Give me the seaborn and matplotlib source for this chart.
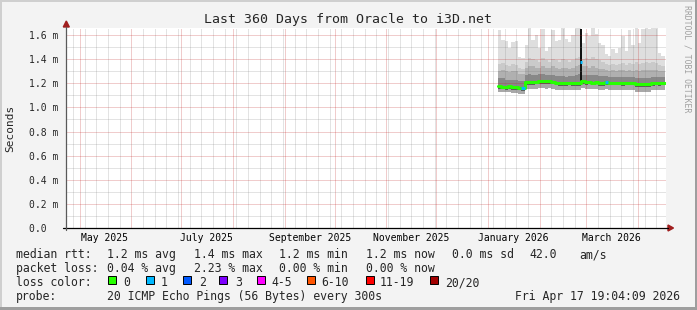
import numpy as np
import pandas as pd
import matplotlib
matplotlib.use("Agg")
import matplotlib.pyplot as plt
import matplotlib.dates as mdates
import matplotlib.transforms as mtransforms
from matplotlib.ticker import MultipleLocator, NullFormatter, FixedLocator
from matplotlib.patches import Rectangle, Polygon
from matplotlib.lines import Line2D
import seaborn as sns

# ---------------- data ----------------
title = "Last 360 Days from Oracle to i3D.net"
graph_start = "2025-04-22 19:04:09"
graph_end = "2026-04-17 19:04:09"
first_bin = "2026-01-07"
bin_days = 2

month_labels = ["May 2025", "July 2025", "September 2025", "November 2025",
                "January 2026", "March 2026"]
label_months = ["2025-05-01", "2025-07-01", "2025-09-01", "2025-11-01",
                "2026-01-01", "2026-03-01"]

y_ticks_ms = [0.0, 0.2, 0.4, 0.6, 0.8, 1.0, 1.2, 1.4, 1.6]
y_tick_labels = ["0.0  ", "0.2 m", "0.4 m", "0.6 m", "0.8 m", "1.0 m",
                 "1.2 m", "1.4 m", "1.6 m"]

median_ms = [1.180, 1.172, 1.170, 1.175, 1.168, 1.165, 1.163, 1.160,
             1.208, 1.210, 1.208, 1.212, 1.218, 1.220, 1.216, 1.219,
             1.214, 1.205, 1.200, 1.203, 1.198, 1.204, 1.200, 1.202,
             1.200,
             1.218, 1.208, 1.212, 1.206, 1.213, 1.200, 1.198, 1.210,
             1.204, 1.204, 1.205, 1.204, 1.203, 1.204, 1.205, 1.204,
             1.195, 1.192, 1.193, 1.192, 1.193, 1.203, 1.204, 1.203, 1.205]

loss_count = [0, 0, 0, 0, 0, 0, 0, 1,
              0, 0, 0, 0, 0, 0, 0, 0, 0, 0, 0, 0, 0, 0, 0, 0,
              0,
              0, 0, 0, 0, 0, 0, 0, 1, 0, 0, 0, 0, 0, 0, 0, 0,
              0, 0, 0, 0, 0, 0, 0, 0, 0]

smoke_top_ms = [1.64, 1.56, 1.55, 1.49, 1.54, 1.55, 1.42, 1.41,
                1.52, 1.66, 1.56, 1.60, 1.49, 1.65, 1.47, 1.50,
                1.64, 1.55, 1.56, 1.66, 1.57, 1.54, 1.60, 1.66,
                1.66,
                1.53, 1.62, 1.59, 1.66, 1.61, 1.53, 1.52, 1.44,
                1.43, 1.48, 1.45, 1.49, 1.59, 1.47, 1.64, 1.52,
                1.66, 1.53, 1.65, 1.66, 1.65, 1.66, 1.66, 1.45, 1.43]

smoke_p90_ms = [1.36, 1.37, 1.35, 1.34, 1.36, 1.35, 1.33, 1.32,
                1.38, 1.41, 1.40, 1.39, 1.38, 1.41, 1.39, 1.38,
                1.40, 1.39, 1.38, 1.40, 1.39, 1.38, 1.39, 1.41,
                1.42,
                1.40, 1.41, 1.40, 1.42, 1.40, 1.39, 1.38, 1.36,
                1.35, 1.36, 1.35, 1.36, 1.37, 1.35, 1.37, 1.36,
                1.38, 1.36, 1.37, 1.38, 1.37, 1.38, 1.37, 1.35, 1.34]

smoke_p75_ms = [1.30, 1.31, 1.30, 1.29, 1.30, 1.30, 1.28, 1.28,
                1.33, 1.34, 1.34, 1.33, 1.33, 1.34, 1.33, 1.33,
                1.34, 1.33, 1.32, 1.33, 1.33, 1.32, 1.33, 1.34,
                1.35,
                1.34, 1.34, 1.33, 1.34, 1.33, 1.32, 1.32, 1.31,
                1.30, 1.31, 1.30, 1.31, 1.31, 1.30, 1.31, 1.30,
                1.31, 1.30, 1.31, 1.31, 1.31, 1.31, 1.31, 1.30, 1.30]

smoke_p60_ms = [1.24, 1.24, 1.23, 1.23, 1.23, 1.23, 1.22, 1.22,
                1.27, 1.28, 1.27, 1.27, 1.28, 1.28, 1.27, 1.27,
                1.27, 1.26, 1.26, 1.26, 1.25, 1.26, 1.26, 1.27,
                1.28,
                1.27, 1.27, 1.27, 1.27, 1.27, 1.26, 1.26, 1.26,
                1.25, 1.25, 1.25, 1.25, 1.25, 1.25, 1.25, 1.25,
                1.24, 1.24, 1.24, 1.24, 1.24, 1.25, 1.25, 1.25, 1.25]

smoke_p20_ms = [1.155, 1.150, 1.148, 1.152, 1.146, 1.143, 1.140, 1.138,
                1.185, 1.188, 1.186, 1.190, 1.195, 1.196, 1.192, 1.195,
                1.190, 1.182, 1.178, 1.180, 1.176, 1.182, 1.178, 1.180,
                1.180,
                1.195, 1.186, 1.190, 1.184, 1.190, 1.178, 1.176, 1.186,
                1.182, 1.182, 1.183, 1.182, 1.181, 1.182, 1.183, 1.182,
                1.172, 1.170, 1.171, 1.170, 1.171, 1.180, 1.182, 1.181, 1.183]

smoke_bottom_ms = [1.130, 1.125, 1.125, 1.130, 1.120, 1.120, 1.115, 1.115,
                   1.150, 1.155, 1.150, 1.155, 1.160, 1.160, 1.155, 1.160,
                   1.155, 1.145, 1.140, 1.145, 1.140, 1.145, 1.140, 1.145,
                   1.145,
                   1.160, 1.150, 1.155, 1.150, 1.155, 1.140, 1.140, 1.150,
                   1.145, 1.145, 1.145, 1.145, 1.145, 1.145, 1.145, 1.145,
                   1.130, 1.130, 1.130, 1.130, 1.130, 1.140, 1.145, 1.140, 1.145]

# single short sample with a latency spike
spike_start = "2026-02-25 00:00"
spike_end = "2026-02-26 06:00"
spike_low_ms = 1.19
spike_high_ms = 1.65
spike_median_ms = 1.379
spike_loss = 1

loss_levels = ["0", "1", "2", "3", "4-5", "6-10", "11-19", "20/20"]
loss_colors = ["#26ff00", "#00b8ff", "#0059ff", "#7e00ff", "#ff00ff",
               "#ff5500", "#ff0000", "#a10000"]

rtt_stats = ["1.2 ms avg", "1.4 ms max", "1.2 ms min", "1.2 ms now",
             "0.0 ms sd", "42.0", "am/s"]
loss_stats = ["0.04 % avg", "2.23 % max", "0.00 % min", "0.00 % now"]
probe_text = "20 ICMP Echo Pings (56 Bytes) every 300s"
stamp_text = "Fri Apr 17 19:04:09 2026"

# ---------------- style ----------------
W, H = 697, 310
sns.set_style("white")
plt.rcParams["font.family"] = ["DejaVu Sans Mono"]
MONO = ["DejaVu Sans Mono"]

fig = plt.figure(figsize=(W / 100, H / 100), dpi=100, facecolor="#f3f3f3")


def fx(x):
    return x / W


def fy(y):
    return 1 - y / H


ax = fig.add_axes([fx(66), fy(228), 600 / W, 200 / H])
ax.set_facecolor("white")

# ---------------- smoke ----------------
dates = pd.date_range(first_bin, periods=len(median_ms), freq=f"{bin_days}D")
edges = dates.append(pd.DatetimeIndex([dates[-1] + pd.Timedelta(days=bin_days)]))


def ext(a):
    return list(a) + [a[-1]]


bands = [
    (smoke_p90_ms, smoke_top_ms, "#dedede"),
    (smoke_p75_ms, smoke_p90_ms, "#cacaca"),
    (smoke_p60_ms, smoke_p75_ms, "#b0b0b0"),
    (median_ms, smoke_p60_ms, "#888888"),
    (smoke_p20_ms, median_ms, "#5c5c5c"),
    (smoke_bottom_ms, smoke_p20_ms, "#a8a8a8"),
]
for lo, hi, col in bands:
    ax.fill_between(edges, ext(lo), ext(hi), step="post", color=col, lw=0, zorder=1)

# dark spike column
s0 = pd.Timestamp(spike_start)
s1 = pd.Timestamp(spike_end)
ax.fill_between([s0, s1], [spike_low_ms, spike_low_ms], [spike_high_ms, spike_high_ms],
                color="#111111", lw=0, zorder=1.5)

# ---------------- median line ----------------
df = pd.DataFrame({"date": edges, "median": ext(median_ms)})
sns.lineplot(data=df, x="date", y="median", drawstyle="steps-post",
             color=loss_colors[0], lw=2.2, ax=ax, zorder=5)


def loss_index(n):
    if n <= 3:
        return n
    if n <= 5:
        return 4
    if n <= 10:
        return 5
    if n <= 19:
        return 6
    return 7


for d, m, n in zip(dates, median_ms, loss_count):
    if n > 0:
        ax.plot([d, d + pd.Timedelta(days=bin_days)], [m, m],
                color=loss_colors[loss_index(n)], lw=2.2, zorder=6,
                solid_capstyle="butt")

ax.plot([s0, s1], [spike_median_ms, spike_median_ms],
        color=loss_colors[loss_index(spike_loss)], lw=2.2, zorder=6,
        solid_capstyle="butt")

# ---------------- axes / grid ----------------
ax.set_xlim(pd.Timestamp(graph_start), pd.Timestamp(graph_end))
ax.set_ylim(0, 200 / 120.625)
ax.set_xlabel("")
ax.set_ylabel("")

ax.xaxis.set_major_locator(mdates.MonthLocator())
ax.xaxis.set_minor_locator(mdates.WeekdayLocator(byweekday=mdates.SU))
ax.xaxis.set_major_formatter(NullFormatter())
ax.xaxis.set_minor_formatter(NullFormatter())
ax.yaxis.set_major_locator(FixedLocator(y_ticks_ms))
ax.set_yticklabels(y_tick_labels)
ax.yaxis.set_minor_locator(MultipleLocator(0.1))

ax.set_axisbelow(False)
ax.grid(which="major", axis="both", color="#c02020", alpha=0.45,
        ls=(0, (1, 1)), lw=0.72)
ax.grid(which="minor", axis="both", color="#7c7c7c", alpha=0.42,
        ls=(0, (1, 1)), lw=0.72)

ax.tick_params(axis="y", which="major", length=3, width=0.8, color="#555555",
               pad=2.2, labelsize=7, direction="out")
ax.tick_params(axis="y", which="minor", length=0)
ax.tick_params(axis="x", which="major", length=1.6, width=0.8, color="#e08080",
               direction="out")
ax.tick_params(axis="x", which="minor", length=1.6, width=0.8, color="#b0b0b0",
               direction="out")
for sp in ax.spines.values():
    sp.set_visible(False)

# month labels centred in the middle of the labelled month
btrans = mtransforms.blended_transform_factory(ax.transData, ax.transAxes)
for lab, m in zip(month_labels, label_months):
    pos = pd.Timestamp(m) + pd.Timedelta(days=15)
    ax.text(pos, -13 / 200, lab, transform=btrans, ha="center", va="baseline",
            fontsize=7, family=MONO, color="black")

# axis lines and arrows
fig.add_artist(Line2D([fx(63), fx(668)], [fy(228), fy(228)], color="black",
                      lw=0.9, transform=fig.transFigure))
fig.add_artist(Line2D([fx(66.3), fx(66.3)], [fy(230), fy(27)], color="#5a5a5a",
                      lw=0.9, transform=fig.transFigure))
fig.add_artist(Polygon([[fx(668), fy(225)], [fx(668), fy(231)], [fx(673.5), fy(228)]],
                       closed=True, color="#a01e1e", transform=fig.transFigure))
fig.add_artist(Polygon([[fx(63.3), fy(27)], [fx(69.3), fy(27)], [fx(66.3), fy(21)]],
                       closed=True, color="#a01e1e", transform=fig.transFigure))

# ---------------- texts ----------------
fig.text(fx(348.5), fy(23.5), title, ha="center", va="baseline",
         fontsize=9.5, family=MONO)
fig.text(fx(10), fy(128), "Seconds", rotation=90, ha="center", va="center",
         fontsize=8, family=MONO)
fig.text(fx(687.5), fy(5), "RRDTOOL / TOBI OETIKER", rotation=270,
         ha="center", va="top", fontsize=5.9, family=MONO, color="#a0a0a0")

LEG = 8.3
row_y = [258.3, 272.3, 286.3, 299.7]
fig.text(fx(16), fy(row_y[0]), "median rtt:", fontsize=LEG, family=MONO, va="baseline")
for s, x in zip(rtt_stats, [107, 194, 279.3, 365.7, 451.7, 529.3, 579.3]):
    fig.text(fx(x), fy(row_y[0]), s, fontsize=LEG, family=MONO, va="baseline")
fig.text(fx(16), fy(row_y[1]), "packet loss:", fontsize=LEG, family=MONO, va="baseline")
for s, x in zip(loss_stats, [107, 194, 279.3, 365.7]):
    fig.text(fx(x), fy(row_y[1]), s, fontsize=LEG, family=MONO, va="baseline")
fig.text(fx(16), fy(row_y[2]), "loss color:", fontsize=LEG, family=MONO, va="baseline")
sq_x = [108.3, 145.7, 182.7, 219.3, 256.7, 307.0, 365.7, 430.0]
lab_x = [123.3, 160.7, 198.7, 235.0, 271.0, 321.7, 380.0, 445.0]
for lvl, col, sx, lx in zip(loss_levels, loss_colors, sq_x, lab_x):
    fig.add_artist(Rectangle((fx(sx), fy(283.5)), 8 / W, 8 / H, facecolor=col,
                             edgecolor="black", lw=0.7, transform=fig.transFigure))
    fig.text(fx(lx), fy(row_y[2]), lvl, fontsize=LEG, family=MONO, va="baseline")
fig.text(fx(16), fy(row_y[3]), "probe:", fontsize=LEG, family=MONO, va="baseline")
fig.text(fx(107), fy(row_y[3]), probe_text, fontsize=LEG, family=MONO, va="baseline")
fig.text(fx(680), fy(row_y[3]), stamp_text, fontsize=LEG, family=MONO,
         va="baseline", ha="right")

# ---------------- frame ----------------
fig.add_artist(Rectangle((0, fy(2)), 1, 2 / H, color="#cfcfcf", lw=0,
                         transform=fig.transFigure))
fig.add_artist(Rectangle((0, 0), 2 / W, 1, color="#cfcfcf", lw=0,
                         transform=fig.transFigure))
fig.add_artist(Rectangle((0, 0), 1, 3 / H, color="#9e9e9e", lw=0,
                         transform=fig.transFigure))
fig.add_artist(Rectangle((fx(695), 0), 2 / W, 1, color="#9e9e9e", lw=0,
                         transform=fig.transFigure))

fig.savefig("out.png", dpi=100, facecolor=fig.get_facecolor())
